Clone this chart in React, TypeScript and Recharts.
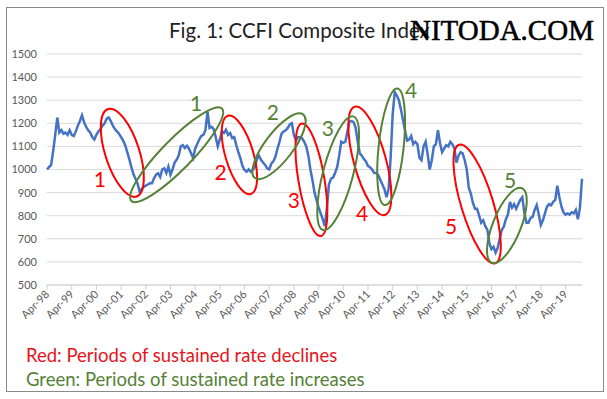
import { LineChart, Line, XAxis, YAxis, CartesianGrid, ReferenceLine, ReferenceDot } from 'recharts';

// monthly CCFI readings, Apr-98 .. Dec-19
const ccfi1998 = [1000, 1010, 1020, 1080, 1150, 1225, 1160, 1170, 1155];
const ccfi1999 = [1160, 1150, 1170, 1150, 1145, 1165, 1190, 1210, 1235, 1205, 1185, 1170];
const ccfi2000 = [1160, 1140, 1130, 1150, 1165, 1175, 1190, 1200, 1220, 1225, 1210, 1190];
const ccfi2001 = [1175, 1165, 1155, 1140, 1125, 1105, 1075, 1045, 1010, 980, 960, 940];
const ccfi2002 = [905, 915, 925, 930, 935, 940, 940, 962, 978, 984, 968, 1000];
const ccfi2003 = [1005, 985, 1013, 977, 1000, 1030, 1042, 1060, 1100, 1105, 1093, 1103];
const ccfi2004 = [1090, 1070, 1050, 1090, 1110, 1130, 1145, 1150, 1170, 1250, 1180, 1185];
const ccfi2005 = [1175, 1140, 1100, 1130, 1165, 1158, 1172, 1150, 1158, 1136, 1140, 1105];
const ccfi2006 = [1075, 1048, 1015, 998, 990, 1000, 990, 998, 1010, 1045, 1060, 1042];
const ccfi2007 = [1030, 1020, 1005, 1000, 1025, 1035, 1055, 1090, 1120, 1155, 1165, 1170];
const ccfi2008 = [1180, 1195, 1200, 1150, 1125, 1140, 1140, 1135, 1120, 1100, 1060, 1000];
const ccfi2009 = [955, 900, 868, 835, 810, 785, 755, 830, 935, 960, 965, 985];
const ccfi2010 = [1010, 1060, 1120, 1115, 1120, 1165, 1208, 1210, 1205, 1180, 1120, 1070];
const ccfi2011 = [1060, 1045, 1035, 1015, 1010, 1000, 985, 985, 975, 955, 935, 915];
const ccfi2012 = [880, 915, 1050, 1240, 1335, 1320, 1300, 1260, 1215, 1170, 1125, 1130];
const ccfi2013 = [1145, 1110, 1120, 1110, 1050, 1040, 1100, 1120, 1065, 1000, 1040, 1100];
const ccfi2014 = [1110, 1170, 1115, 1075, 1090, 1105, 1100, 1120, 1110, 1090, 1030, 1060];
const ccfi2015 = [1075, 1070, 1040, 1000, 920, 895, 855, 830, 830, 800, 770, 780];
const ccfi2016 = [755, 740, 680, 655, 665, 640, 660, 700, 738, 752, 785, 805];
const ccfi2017 = [860, 835, 850, 830, 850, 868, 880, 810, 770, 770, 790, 795];
const ccfi2018 = [825, 846, 805, 760, 780, 810, 839, 850, 845, 860, 868, 930];
const ccfi2019 = [880, 840, 815, 805, 810, 805, 815, 810, 825, 785, 835, 960];

const yearLabels = [
  'Apr-98', 'Apr-99', 'Apr-00', 'Apr-01', 'Apr-02', 'Apr-03', 'Apr-04', 'Apr-05',
  'Apr-06', 'Apr-07', 'Apr-08', 'Apr-09', 'Apr-10', 'Apr-11', 'Apr-12', 'Apr-13',
  'Apr-14', 'Apr-15', 'Apr-16', 'Apr-17', 'Apr-18', 'Apr-19',
];
const yTicks = [500, 600, 700, 800, 900, 1000, 1100, 1200, 1300, 1400, 1500];

// annotation rings: [month, value] at both tips of the long axis, label spot
const declineRings = [
  { n: '1', from: [29.7, 1262], to: [43.5, 883], ry: 17, at: [25.7, 963] },
  { n: '2', from: [87.9, 1233], to: [99.1, 894], ry: 14, at: [84.4, 990] },
  { n: '3', from: [123.9, 1199], to: [133.1, 712], ry: 13, at: [120.0, 868] },
  { n: '4', from: [149.6, 1272], to: [164.2, 803], ry: 16, at: [153.1, 812] },
  { n: '5', from: [200.3, 1107], to: [217.8, 594], ry: 16, at: [196.4, 759] },
];
const riseRings = [
  { n: '1', from: [41.0, 864], to: [85.0, 1264], ry: 15, at: [72.4, 1290] },
  { n: '2', from: [101.0, 963], to: [124.5, 1238], ry: 14, at: [109.8, 1251] },
  { n: '3', from: [134.2, 738], to: [148.8, 1230], ry: 15, at: [136.5, 1181] },
  { n: '4', from: [170.3, 1351], to: [164.2, 846], ry: 12.5, at: [176.9, 1346] },
  { n: '5', from: [230.8, 919], to: [216.2, 596], ry: 14, at: [225.0, 955] },
];

const RED = '#ff0000';
const GREEN = '#548235';
const FONT = 'Lato, "Open Sans", sans-serif';

const series = [
  ccfi1998, ccfi1999, ccfi2000, ccfi2001, ccfi2002, ccfi2003, ccfi2004, ccfi2005,
  ccfi2006, ccfi2007, ccfi2008, ccfi2009, ccfi2010, ccfi2011, ccfi2012, ccfi2013,
  ccfi2014, ccfi2015, ccfi2016, ccfi2017, ccfi2018, ccfi2019,
].flat();
const data = series.map((v, m) => ({ m, v }));
const xTicks = yearLabels.map((_, i) => i * 12);

const ring = (color: string, ry: number) => (p: any) => {
  const { x1, y1, x2, y2 } = p;
  const cx = (x1 + x2) / 2;
  const cy = (y1 + y2) / 2;
  const rx = Math.hypot(x2 - x1, y2 - y1) / 2;
  const angle = (Math.atan2(y2 - y1, x2 - x1) * 180) / Math.PI;
  return (
    <ellipse
      cx={cx}
      cy={cy}
      rx={rx}
      ry={ry}
      transform={`rotate(${angle} ${cx} ${cy})`}
      fill="none"
      stroke={color}
      strokeWidth={2}
    />
  );
};

const numberMark = (color: string, n: string) => (p: any) => (
  <text x={p.cx} y={p.cy} textAnchor="middle" dominantBaseline="central" fill={color} fontSize={21} fontFamily={FONT}>
    {n}
  </text>
);

const XTick = ({ x, y, payload }: any) => {
  const tx = x + 3;
  const ty = y + 3;
  return (
    <text x={tx} y={ty} transform={`rotate(-45 ${tx} ${ty})`} textAnchor="end" fontSize={11} fill="#595959" fontFamily={FONT}>
      {yearLabels[Math.round(payload.value / 12)]}
    </text>
  );
};

export default function App() {
  return (
    <div style={{ position: 'absolute', left: 0, top: 0, width: 607, height: 399, background: '#fff', fontFamily: FONT }}>
      <div style={{ position: 'absolute', left: 6, top: 7, width: 598, height: 385, border: '1px solid #8a8a8a', boxSizing: 'border-box' }} />
      <div style={{ position: 'absolute', left: 169, top: 18, fontSize: 20.5, color: '#222', whiteSpace: 'nowrap' }}>
        Fig. 1: CCFI Composite Index
      </div>
      <div style={{ position: 'absolute', left: 410, top: 14, fontSize: 29, fontFamily: '"Liberation Serif", serif', color: '#000', whiteSpace: 'nowrap', WebkitTextStroke: '0.5px #000' }}>
        NITODA.COM
      </div>
      <LineChart
        width={607}
        height={399}
        data={data}
        margin={{ top: 54, right: 25, left: 0, bottom: 74 }}
        style={{ position: 'absolute', left: 0, top: 0 }}
      >
        <CartesianGrid vertical={false} stroke="#d9d9d9" />
        <XAxis
          dataKey="m"
          type="number"
          domain={[0, 260]}
          ticks={xTicks}
          interval={0}
          height={40}
          stroke="#d0d0d0"
          tickSize={5}
          tickMargin={2}
          tick={<XTick />}
        />
        <YAxis
          domain={[500, 1500]}
          ticks={yTicks}
          width={47}
          axisLine={false}
          tickLine={false}
          tickMargin={4}
          tick={{ fontSize: 11, fill: '#595959', fontFamily: FONT }}
        />
        <Line type="linear" dataKey="v" stroke="#4472C4" strokeWidth={2.5} dot={false} isAnimationActive={false} />
        {declineRings.map((r) => (
          <ReferenceLine
            key={`d${r.n}`}
            segment={[{ x: r.from[0], y: r.from[1] }, { x: r.to[0], y: r.to[1] }]}
            ifOverflow="visible"
            shape={ring(RED, r.ry)}
          />
        ))}
        {riseRings.map((r) => (
          <ReferenceLine
            key={`r${r.n}`}
            segment={[{ x: r.from[0], y: r.from[1] }, { x: r.to[0], y: r.to[1] }]}
            ifOverflow="visible"
            shape={ring(GREEN, r.ry)}
          />
        ))}
        {declineRings.map((r) => (
          <ReferenceDot key={`dn${r.n}`} x={r.at[0]} y={r.at[1]} r={0} ifOverflow="visible" shape={numberMark(RED, r.n)} />
        ))}
        {riseRings.map((r) => (
          <ReferenceDot key={`rn${r.n}`} x={r.at[0]} y={r.at[1]} r={0} ifOverflow="visible" shape={numberMark(GREEN, r.n)} />
        ))}
      </LineChart>
      <div style={{ position: 'absolute', left: 26, top: 344, fontSize: 18.5, color: '#e8141c', whiteSpace: 'nowrap' }}>
        Red: Periods of sustained rate declines
      </div>
      <div style={{ position: 'absolute', left: 26, top: 368, fontSize: 18.5, color: GREEN, whiteSpace: 'nowrap' }}>
        Green: Periods of sustained rate increases
      </div>
    </div>
  );
}
